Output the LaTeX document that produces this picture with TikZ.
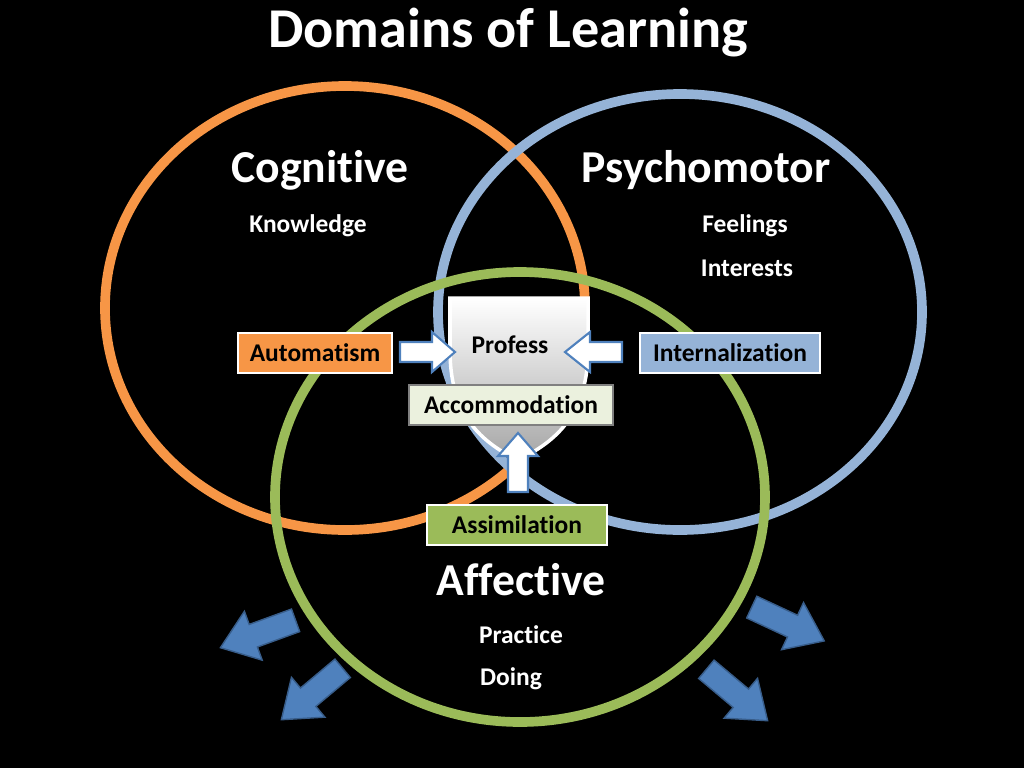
\documentclass[tikz,border=0pt]{standalone}
\usepackage{fontspec}
\setmainfont{Carlito}[Ligatures=NoCommon]
\begin{document}
\begin{tikzpicture}[x=0.02cm,y=-0.02cm,
  ring/.style={line width=5.5pt},
  lbl/.style={text=white,font=\bfseries},
  sm/.style={text=white,font=\bfseries\fontsize{14.5}{17}\selectfont},
  big/.style={text=white,font=\bfseries\fontsize{26}{30}\selectfont},
  tag/.style={draw=white,line width=0.8pt,minimum height=0.8cm,inner xsep=6pt,font=\bfseries\fontsize{14.5}{17}\selectfont,text=black},
  warrow/.style={fill=white,draw={rgb,255:red,79;green,129;blue,189},line width=1.2pt,line join=miter},
  barrow/.style={fill={rgb,255:red,79;green,129;blue,189},draw={rgb,255:red,56;green,93;blue,138},line width=0.8pt}]
\fill[black] (0,0) rectangle (1024,768);
\definecolor{cog}{RGB}{247,150,70}
\definecolor{psy}{RGB}{149,179,215}
\definecolor{aff}{RGB}{155,187,89}
% rings
\draw[ring,cog] (345,308) ellipse [x radius=240,y radius=222];
\draw[ring,psy] (680,312) ellipse [x radius=242,y radius=218];
\draw[ring,aff] (520,497) ellipse [x radius=245,y radius=225];
% shield
\shade[top color=white,bottom color=gray!70,draw=white,line width=2pt]
  (450,298) -- (588,298) -- (588,350) .. controls (588,410) and (560,440) .. (518,460)
  .. controls (476,440) and (450,410) .. (450,350) -- cycle;
\node[font=\bfseries\fontsize{14.5}{17}\selectfont] (prof) at (510,345) {Profess};
% title and labels
\node[lbl,font=\bfseries\fontsize{32}{36}\selectfont] (title) at (508,33) {Domains of Learning};
\node[big] (cog) at (320,170) {Cognitive};
\node[big] (psy) at (706,170) {Psychomotor};
\node[big] (aff) at (521,580) {Affective};
\node[sm] (kn) at (308,226) {Knowledge};
\node[sm] (fe) at (745,226) {Feelings};
\node[sm] (in) at (747,268) {Interests};
\node[sm] (pr) at (521,635) {Practice};
\node[sm] (do) at (511,679) {Doing};
% tags
\node[tag,fill=cog,minimum width=154*0.02cm] (auto) at (315,353) {Automatism};
\node[tag,fill=psy,minimum width=180*0.02cm] (int) at (730,353) {Internalization};
\node[tag,fill={rgb,255:red,235;green,241;blue,222},draw=gray,minimum width=204*0.02cm] (acc) at (511,405) {Accommodation};
\node[tag,fill=aff,minimum width=180*0.02cm] (ass) at (517,525) {Assimilation};
% white block arrows
\draw[warrow] (400,342) -- (432,342) -- (432,332) -- (455,352) -- (432,372) -- (432,362) -- (400,362) -- cycle;
\draw[warrow] (622,342) -- (590,342) -- (590,332) -- (565,352) -- (590,372) -- (590,362) -- (622,362) -- cycle;
\draw[warrow] (508,492) -- (508,456) -- (498,456) -- (518,433) -- (538,456) -- (528,456) -- (528,492) -- cycle;
% blue arrows
\foreach \x/\y/\a in {258/634/200, 312/694/220, 788/624/-25, 737/695/-40}{
  \begin{scope}[shift={(\x,\y)},rotate=\a]
    \draw[barrow] (-40,-12) -- (5,-12) -- (5,-26) -- (40,0) -- (5,26) -- (5,12) -- (-40,12) -- cycle;
  \end{scope}}
\end{tikzpicture}
\end{document}
